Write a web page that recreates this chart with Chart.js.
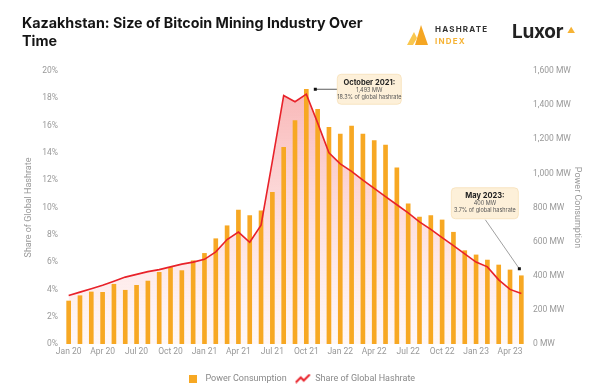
<!DOCTYPE html>
<html>
<head>
<meta charset="utf-8">
<script src="https://cdn.jsdelivr.net/npm/chart.js@4.4.0/dist/chart.umd.min.js"></script>
<style>
  body { margin: 0; background: #fff; }
  #wrap { position: relative; width: 600px; height: 387px; }
  #title { position: absolute; left: 22px; top: 14px; font: bold 14.3px/17.7px Inter, sans-serif; color: #151515; }
  #hashrate { position: absolute; left: 407px; top: 24px; }
  #hashrate svg { position: absolute; left: 0; top: 0; }
  #hashrate .t1 { position: absolute; left: 28px; top: 0px; font: bold 8px/10px Inter, sans-serif; letter-spacing: 1.2px; color: #333; }
  #hashrate .t2 { position: absolute; left: 28px; top: 12px; font: bold 8px/10px Inter, sans-serif; letter-spacing: 1.2px; color: #f6b335; }
  #luxor { position: absolute; left: 512px; top: 20px; font: bold 19px/24px Inter, sans-serif; color: #222; letter-spacing: -0.3px; }
  #luxor span { position: absolute; left: 55px; top: -2px; color: #f6b335; font-size: 8px; }
  canvas { position: absolute; left: 0; top: 0; }
</style>
</head>
<body>
<div id="wrap">
  <canvas id="chart" width="600" height="387"></canvas>
  <div id="title">Kazakhstan: Size of Bitcoin Mining Industry Over<br>Time</div>
  <div id="hashrate">
    <svg width="22" height="21"><polygon points="0,21 7,8 10,14 6,21" fill="#f9c74f"/><polygon points="8,21 14,1 21,21" fill="#f5a623"/></svg>
    <div class="t1">HASHRATE</div>
    <div class="t2">INDEX</div>
  </div>
  <div id="luxor">Luxor<span>&#9650;</span></div>
</div>
<script>
// mois affichés sur l'axe x
var months = [
  'Jan 20', 'Feb 20', 'Mar 20', 'Apr 20', 'May 20', 'Jun 20', 'Jul 20', 'Aug 20', 'Sep 20', 'Oct 20', 'Nov 20', 'Dec 20',
  'Jan 21', 'Feb 21', 'Mar 21', 'Apr 21', 'May 21', 'Jun 21', 'Jul 21', 'Aug 21', 'Sep 21', 'Oct 21', 'Nov 21', 'Dec 21',
  'Jan 22', 'Feb 22', 'Mar 22', 'Apr 22', 'May 22', 'Jun 22', 'Jul 22', 'Aug 22', 'Sep 22', 'Oct 22', 'Nov 22', 'Dec 22',
  'Jan 23', 'Feb 23', 'Mar 23', 'Apr 23', 'May 23'
];
var xTickLabels = ['Jan 20', 'Apr 20', 'Jul 20', 'Oct 20', 'Jan 21', 'Apr 21', 'Jul 21', 'Oct 21',
  'Jan 22', 'Apr 22', 'Jul 22', 'Oct 22', 'Jan 23', 'Apr 23'];

// consommation électrique (MW)
var powerMW = [
  252, 283, 305, 303, 350, 315, 344, 369, 420, 449, 430, 488,
  531, 617, 693, 785, 752, 781, 889, 1153, 1309, 1493, 1375, 1270,
  1231, 1277, 1231, 1192, 1166, 1033, 822, 744, 752, 727, 655, 547,
  522, 492, 463, 434, 400
];
// part du hashrate mondial (%)
var sharePct = [
  3.55, 3.8, 4.05, 4.3, 4.6, 4.9, 5.1, 5.3, 5.45, 5.65, 5.85, 6.0,
  6.2, 6.75, 7.65, 8.2, 7.45, 8.7, 13.4, 18.2, 17.75, 18.3, 16.2, 14.0,
  13.2, 12.65, 12.0, 11.4, 10.8, 10.2, 9.6, 8.95, 8.4, 7.8, 7.2, 6.6,
  6.0, 5.65, 4.7, 4.0, 3.7
];

var leftTicks = [0, 2, 4, 6, 8, 10, 12, 14, 16, 18, 20];
var rightTicks = [0, 200, 400, 600, 800, 1000, 1200, 1400, 1600];

var octNote = ['October 2021:', '1,493 MW', '18.3% of global hashrate'];
var mayNote = ['May 2023:', '400 MW', '3.7% of global hashrate'];

var barColor = '#f7a823';
var lineColor = '#e8222a';
var tickFont = { family: 'Roboto', size: 8.5 };

function makeIcon(type) {
  var c = document.createElement('canvas');
  var g = c.getContext('2d');
  if (type === 'bar') {
    c.width = 8; c.height = 8;
    g.fillStyle = barColor;
    g.fillRect(0, 0, 8, 8);
  } else {
    c.width = 16; c.height = 10;
    g.strokeStyle = lineColor;
    g.lineWidth = 2;
    g.beginPath();
    g.moveTo(1, 9); g.lineTo(6, 4); g.lineTo(9, 7); g.lineTo(15, 1);
    g.stroke();
  }
  return c;
}

function roundRect(ctx, x, y, w, h, r) {
  ctx.beginPath();
  ctx.moveTo(x + r, y);
  ctx.arcTo(x + w, y, x + w, y + h, r);
  ctx.arcTo(x + w, y + h, x, y + h, r);
  ctx.arcTo(x, y + h, x, y, r);
  ctx.arcTo(x, y, x + w, y, r);
  ctx.closePath();
}

function drawNote(ctx, x, y, w, h, lines) {
  ctx.save();
  roundRect(ctx, x, y, w, h, 4);
  ctx.fillStyle = '#fdf0d9';
  ctx.fill();
  ctx.strokeStyle = '#f6e0b8';
  ctx.lineWidth = 0.8;
  ctx.stroke();
  ctx.textAlign = 'center';
  ctx.textBaseline = 'middle';
  ctx.fillStyle = '#222';
  ctx.font = 'bold 7.5px Inter';
  ctx.fillText(lines[0], x + w / 2, y + 8);
  ctx.fillStyle = '#555';
  ctx.font = '5.5px Inter';
  ctx.fillText(lines[1], x + w / 2, y + 16);
  ctx.fillText(lines[2], x + w / 2, y + 23);
  ctx.restore();
}

function drawPointer(ctx, x1, y1, x2, y2, color) {
  ctx.save();
  ctx.strokeStyle = color;
  ctx.lineWidth = 0.8;
  ctx.beginPath();
  ctx.moveTo(x1, y1);
  ctx.lineTo(x2, y2);
  ctx.stroke();
  ctx.fillStyle = '#111';
  ctx.fillRect(x2 - 1.5, y2 - 1.5, 3, 3);
  ctx.restore();
}

// annotations (encadrés Oct 2021 / May 2023)
var notesPlugin = {
  id: 'notes',
  afterDatasetsDraw: function (chart) {
    var ctx = chart.ctx;
    var x = chart.scales.x, y1 = chart.scales.y1;

    var i = months.indexOf('Oct 21');
    var px = x.getPixelForValue(i), py = y1.getPixelForValue(powerMW[i]);
    drawPointer(ctx, px + 31, py, px + 9, py, '#333');
    drawNote(ctx, px + 31, py - 15, 64, 30, octNote);

    var j = months.indexOf('May 23');
    px = x.getPixelForValue(j); py = y1.getPixelForValue(powerMW[j]);
    drawPointer(ctx, px - 36, py - 56, px - 2, py - 7, '#888');
    drawNote(ctx, px - 70, py - 88, 67, 31, mayNote);
  }
};

var ctx = document.getElementById('chart').getContext('2d');
new Chart(ctx, {
  data: {
    labels: months,
    datasets: [
      {
        type: 'bar',
        label: 'Power Consumption',
        data: powerMW,
        yAxisID: 'y1',
        backgroundColor: barColor,
        barThickness: 4,
        order: 1
      },
      {
        type: 'line',
        label: 'Share of Global Hashrate',
        data: sharePct,
        yAxisID: 'y',
        borderColor: lineColor,
        borderWidth: 1.6,
        pointRadius: 0,
        tension: 0,
        fill: 'origin',
        backgroundColor: function (context) {
          var chart = context.chart;
          var area = chart.chartArea;
          if (!area) return 'rgba(240,90,90,0.2)';
          var grad = chart.ctx.createLinearGradient(0, area.top, 0, area.bottom);
          grad.addColorStop(0, 'rgba(240,80,80,0.45)');
          grad.addColorStop(1, 'rgba(250,160,160,0.08)');
          return grad;
        },
        order: 0
      }
    ]
  },
  options: {
    responsive: false,
    animation: false,
    layout: { padding: { top: 71, left: 0, right: 0, bottom: 0 } },
    plugins: {
      filler: { drawTime: 'beforeDatasetsDraw' },
      tooltip: { enabled: false },
      legend: {
        position: 'bottom',
        maxHeight: 21,
        labels: {
          usePointStyle: true,
          pointStyleWidth: 16,
          padding: 8,
          color: '#888',
          font: { family: 'Roboto', size: 9 },
          generateLabels: function () {
            return [
              { text: 'Power Consumption', pointStyle: makeIcon('bar'), fillStyle: barColor, strokeStyle: barColor, lineWidth: 0, datasetIndex: 0, fontColor: '#888' },
              { text: 'Share of Global Hashrate', pointStyle: makeIcon('line'), fillStyle: lineColor, strokeStyle: lineColor, lineWidth: 0, datasetIndex: 1, fontColor: '#888' }
            ];
          }
        }
      }
    },
    scales: {
      x: {
        grid: { display: false, drawTicks: false },
        border: { display: false },
        afterFit: function (scale) { scale.height = 22; },
        ticks: {
          autoSkip: false,
          maxRotation: 0,
          padding: 3,
          color: '#999',
          font: tickFont,
          callback: function (value) {
            var lab = months[value];
            return xTickLabels.indexOf(lab) >= 0 ? lab : '';
          }
        }
      },
      y: {
        position: 'left',
        min: 0,
        max: 20,
        grid: { display: false, drawTicks: false },
        border: { display: false },
        afterFit: function (scale) { scale.width = 63; },
        afterBuildTicks: function (scale) {
          scale.ticks = leftTicks.map(function (v) { return { value: v }; });
        },
        ticks: {
          padding: 5,
          color: '#999',
          font: tickFont,
          callback: function (v) { return v + '%'; }
        },
        title: {
          display: true,
          text: 'Share of Global Hashrate',
          color: '#999',
          font: { family: 'Roboto', size: 9 },
          padding: { top: 23, bottom: 0 }
        }
      },
      y1: {
        position: 'right',
        min: 0,
        max: 1600,
        grid: { display: false, drawTicks: false },
        border: { display: false },
        afterFit: function (scale) { scale.width = 73; },
        afterBuildTicks: function (scale) {
          scale.ticks = rightTicks.map(function (v) { return { value: v }; });
        },
        ticks: {
          padding: 6,
          color: '#999',
          font: tickFont,
          callback: function (v) { return v.toLocaleString('en-US') + ' MW'; }
        },
        title: {
          display: true,
          text: 'Power Consumption',
          color: '#999',
          font: { family: 'Roboto', size: 9 },
          padding: { top: 17, bottom: 0 }
        }
      }
    }
  },
  plugins: [notesPlugin]
});
</script>
</body>
</html>
